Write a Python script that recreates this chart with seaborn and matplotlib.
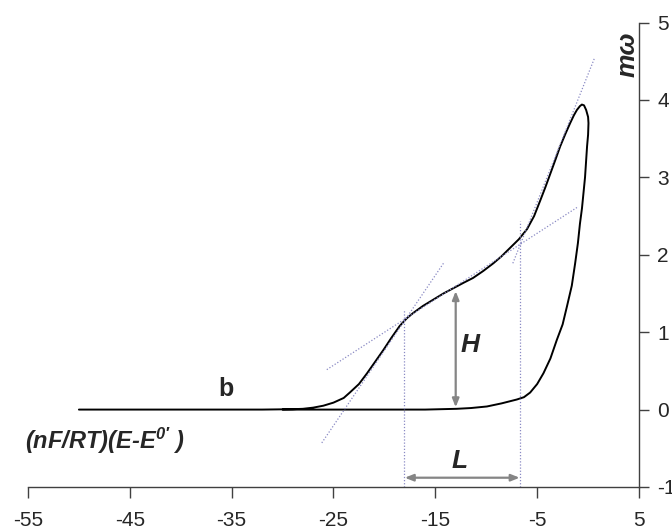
import numpy as np
import pandas as pd
import matplotlib
matplotlib.use("Agg")
import matplotlib.pyplot as plt
import seaborn as sns

# ---- data ----
fwd_x = [-50, -40, -32, -29, -28, -27, -26, -25, -24, -23.4, -22.5, -21.7, -20.9,
         -20.1, -19.3, -18.5, -17.8, -17.15, -16.2, -15.2, -14.2, -13.2, -12.2,
         -11.3, -10.3, -9.3, -8.5, -7.65, -6.8, -6.0, -5.3, -4.7, -4.2, -3.7,
         -3.2, -2.74, -2.2, -1.76, -1.4, -1.1, -0.8, -0.61, -0.4]
fwd_y = [0, 0, 0, 0.005, 0.01, 0.025, 0.05, 0.09, 0.15, 0.22, 0.33, 0.47, 0.62,
         0.77, 0.93, 1.08, 1.18, 1.25, 1.34, 1.42, 1.50, 1.57, 1.64,
         1.70, 1.79, 1.89, 1.98, 2.09, 2.20, 2.33, 2.50, 2.70, 2.87, 3.05,
         3.23, 3.40, 3.57, 3.70, 3.80, 3.87, 3.92, 3.94, 3.93]
rev_x = [-0.19, 0.0, 0.04, 0.0, -0.1, -0.2, -0.3, -0.45, -0.6, -0.8, -1.0, -1.27,
         -1.6, -2.08, -2.5, -3.07, -3.7, -4.38, -5.0, -5.69, -6.3, -7.0, -8.5,
         -9.94, -11.5, -12.9, -16, -30]
rev_y = [3.87, 3.78, 3.70, 3.55, 3.40, 3.2, 3.0, 2.8, 2.6, 2.4, 2.15, 1.89,
         1.6, 1.33, 1.1, 0.90, 0.66, 0.47, 0.33, 0.22, 0.16, 0.13, 0.08,
         0.04, 0.02, 0.01, 0.0, 0.0]

tan1_x, tan1_y = [-26.15, -14.2], [-0.43, 1.89]
tan2_x, tan2_y = [-25.66, -1.04], [0.516, 2.615]
tan3_x, tan3_y = [-7.39, 0.63], [1.89, 4.54]
vline_x = [-18.03, -6.72]
vline_top = [1.29, 2.43]

H_x, H_y = -13.0, [0.03, 1.53]
L_y, L_x = -0.88, [-18.0, -6.72]

x_ticks = [-55, -45, -35, -25, -15, -5, 5]
y_ticks = [-1, 0, 1, 2, 3, 4, 5]

# ---- style ----
sns.set_style("white")
plt.rcParams["font.family"] = ["Liberation Sans", "DejaVu Sans"]
plt.rcParams["mathtext.fontset"] = "custom"
plt.rcParams["mathtext.bf"] = "Liberation Sans:italic:bold"
plt.rcParams["mathtext.it"] = "Liberation Sans:italic"
plt.rcParams["mathtext.rm"] = "Liberation Sans"

fig = plt.figure(figsize=(6.72, 5.31), dpi=100)
ax = fig.add_axes([28 / 672, 44 / 531, 611 / 672, 464.5 / 531])

curve = pd.DataFrame({
    "x": fwd_x + rev_x,
    "y": fwd_y + rev_y,
})
sns.lineplot(data=curve, x="x", y="y", sort=False, estimator=None,
             color="black", lw=1.4, ax=ax)

dot_col = "#8a8ac4"
dot_ls = (0, (1, 1.5))
for tx, ty in [(tan1_x, tan1_y), (tan2_x, tan2_y), (tan3_x, tan3_y)]:
    sns.lineplot(x=tx, y=ty, color=dot_col, lw=0.9, linestyle=dot_ls, ax=ax)
for vx, vt in zip(vline_x, vline_top):
    ax.plot([vx, vx], [-1, vt], color=dot_col, lw=0.9, linestyle=dot_ls)

arrow_kw = dict(arrowstyle="<|-|>,head_length=0.5,head_width=0.2",
                color="#858585", lw=1.6, shrinkA=0, shrinkB=0)
ax.annotate("", xy=(H_x, H_y[0]), xytext=(H_x, H_y[1]), arrowprops=arrow_kw)
ax.annotate("", xy=(L_x[0], L_y), xytext=(L_x[1], L_y), arrowprops=arrow_kw)

bi = dict(fontweight="bold", fontstyle="italic")
ax.text(-11.6, 0.84, "H", fontsize=19, ha="center", va="center", **bi)
ax.text(-12.6, -0.66, "L", fontsize=19, ha="center", va="center", **bi)
ax.text(-35.6, 0.27, "b", fontsize=18, fontweight="bold", ha="center", va="center")
ax.text(-55.3, -0.40, r"(nF/RT)(E-E$^{\mathbf{0\prime}}$ )", fontsize=17,
        ha="left", va="center", **bi)
ax.text(3.85, 4.59, "mω", fontsize=19, rotation=90, ha="center", va="center", **bi)

ax.set_xlim(-55, 5)
ax.set_ylim(-1, 5)
ax.set_xticks(x_ticks)
ax.set_xticklabels([str(v) for v in x_ticks])
ax.set_yticks(y_ticks)
ax.set_yticklabels([str(v) for v in y_ticks])
ax.set_xlabel("")
ax.set_ylabel("")

ax.yaxis.tick_right()
for s in ["top", "left"]:
    ax.spines[s].set_visible(False)
for s in ["right", "bottom"]:
    ax.spines[s].set_color("#404040")
    ax.spines[s].set_linewidth(1.0)
ax.tick_params(axis="x", direction="out", length=8, width=1, color="#404040",
               labelsize=15, pad=9, bottom=True)
ax.tick_params(axis="y", direction="out", length=7, width=1, color="#404040",
               labelsize=15, pad=6, right=True, left=False)

fig.savefig("out.png", dpi=100)
